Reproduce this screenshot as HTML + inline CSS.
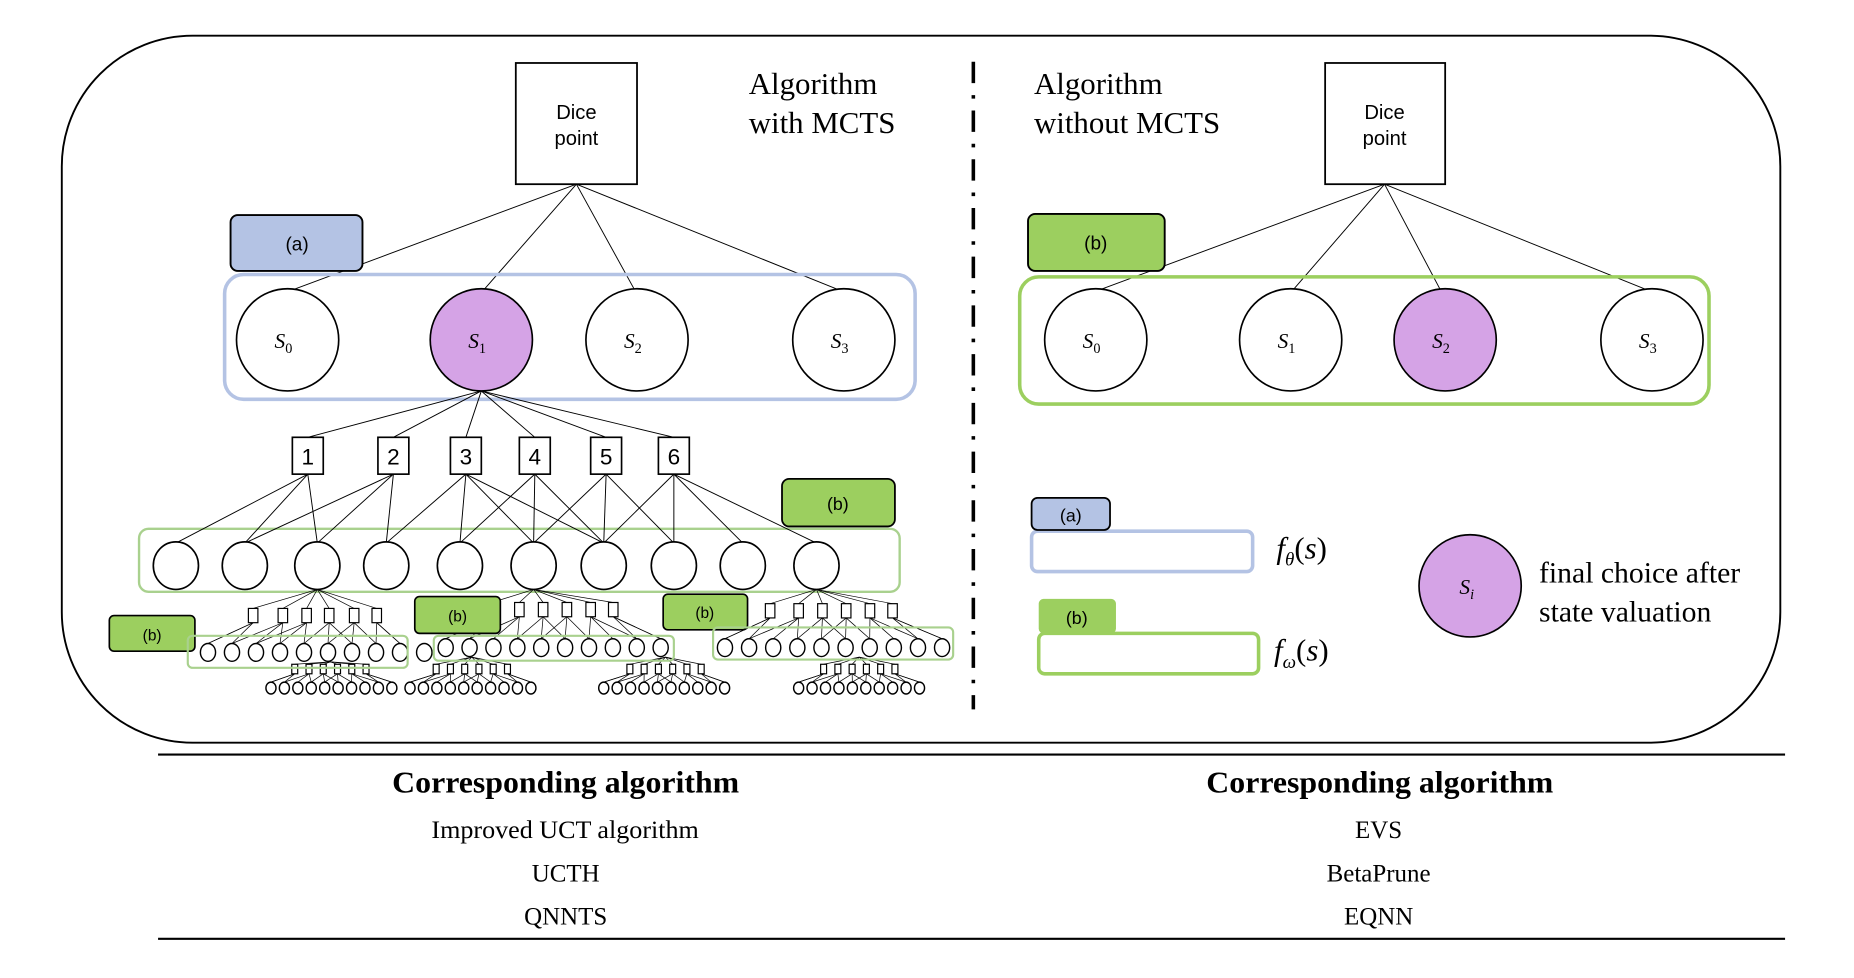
<!DOCTYPE html>
<html><head><meta charset="utf-8"><style>
html,body{margin:0;padding:0;background:#fff;width:1854px;height:978px;overflow:hidden}
svg{display:block}
.s{font-family:"Liberation Sans",sans-serif}
.r{font-family:"Liberation Serif",serif}
</style></head><body>
<svg id="g" width="1854" height="978" viewBox="0 0 1560 823" preserveAspectRatio="none" xmlns="http://www.w3.org/2000/svg">
<rect x="52" y="30" width="1446" height="595" rx="110" ry="110" fill="none" stroke="#000" stroke-width="1.6"/>
<line x1="819" y1="52" x2="819" y2="597" stroke="#000" stroke-width="3" stroke-dasharray="18,10,3,10"/>
<line x1="133" y1="635" x2="1502" y2="635" stroke="#000" stroke-width="1.8"/>
<line x1="133" y1="790" x2="1502" y2="790" stroke="#000" stroke-width="1.8"/>

<rect x="434" y="53" width="102" height="102" fill="#fff" stroke="#000" stroke-width="1.5"/>
<text class="s" x="485" y="100" font-size="17" text-anchor="middle">Dice</text>
<text class="s" x="485" y="122" font-size="17" text-anchor="middle">point</text>
<text class="r" x="630" y="79" font-size="26">Algorithm</text>
<text class="r" x="630" y="112" font-size="26">with MCTS</text>
<g stroke="#000" stroke-width="0.8">
<line x1="485" y1="155" x2="246" y2="244"/><line x1="485" y1="155" x2="407" y2="244"/>
<line x1="485" y1="155" x2="534" y2="244"/><line x1="485" y1="155" x2="706" y2="244"/>
</g>
<rect x="189" y="231" width="581" height="105" rx="16" fill="none" stroke="#b4c3e4" stroke-width="3"/>
<rect x="194" y="181" width="111" height="47" rx="6" fill="#b4c3e4" stroke="#000" stroke-width="1.6"/>
<text class="s" x="250" y="211" font-size="16" text-anchor="middle">(a)</text>
<g stroke="#000" stroke-width="1.4">
<ellipse cx="242" cy="286" rx="43" ry="43" fill="#fff"/>
<ellipse cx="405" cy="286" rx="43" ry="43" fill="#d5a3e6"/>
<ellipse cx="536" cy="286" rx="43" ry="43" fill="#fff"/>
<ellipse cx="710" cy="286" rx="43" ry="43" fill="#fff"/>
</g>
<g class="r" font-size="18" font-style="italic">
<text x="231" y="293">S<tspan font-size="12" dy="4" font-style="normal">0</tspan></text>
<text x="394" y="293">S<tspan font-size="12" dy="4" font-style="normal">1</tspan></text>
<text x="525" y="293">S<tspan font-size="12" dy="4" font-style="normal">2</tspan></text>
<text x="699" y="293">S<tspan font-size="12" dy="4" font-style="normal">3</tspan></text>
</g>

<rect x="1115" y="53" width="101" height="102" fill="#fff" stroke="#000" stroke-width="1.5"/>
<text class="s" x="1165" y="100" font-size="17" text-anchor="middle">Dice</text>
<text class="s" x="1165" y="122" font-size="17" text-anchor="middle">point</text>
<text class="r" x="870" y="79" font-size="26">Algorithm</text>
<text class="r" x="870" y="112" font-size="26">without MCTS</text>
<g stroke="#000" stroke-width="0.8">
<line x1="1165" y1="155" x2="925" y2="244"/><line x1="1165" y1="155" x2="1088" y2="244"/>
<line x1="1165" y1="155" x2="1212" y2="244"/><line x1="1165" y1="155" x2="1386" y2="244"/>
</g>
<rect x="858" y="233" width="580" height="107" rx="16" fill="none" stroke="#9ccf5f" stroke-width="3"/>
<rect x="865" y="180" width="115" height="48" rx="6" fill="#9ccf5f" stroke="#000" stroke-width="1.6"/>
<text class="s" x="922" y="210" font-size="16" text-anchor="middle">(b)</text>
<g stroke="#000" stroke-width="1.4">
<ellipse cx="922" cy="286" rx="43" ry="43" fill="#fff"/>
<ellipse cx="1086" cy="286" rx="43" ry="43" fill="#fff"/>
<ellipse cx="1216" cy="286" rx="43" ry="43" fill="#d5a3e6"/>
<ellipse cx="1390" cy="286" rx="43" ry="43" fill="#fff"/>
</g>
<g class="r" font-size="18" font-style="italic">
<text x="911" y="293">S<tspan font-size="12" dy="4" font-style="normal">0</tspan></text>
<text x="1075" y="293">S<tspan font-size="12" dy="4" font-style="normal">1</tspan></text>
<text x="1205" y="293">S<tspan font-size="12" dy="4" font-style="normal">2</tspan></text>
<text x="1379" y="293">S<tspan font-size="12" dy="4" font-style="normal">3</tspan></text>
</g>

<rect x="868" y="447" width="186" height="34" rx="5" fill="#fff" stroke="#b4c3e4" stroke-width="3"/>
<rect x="868" y="419" width="66" height="27" rx="5" fill="#b4c3e4" stroke="#000" stroke-width="1.5"/>
<text class="s" x="901" y="439" font-size="15" text-anchor="middle">(a)</text>
<text class="r" x="1074" y="470" font-size="26"><tspan font-style="italic">f</tspan><tspan font-size="16" dy="6" font-style="italic">θ</tspan><tspan dy="-6">(</tspan><tspan font-style="italic">s</tspan>)</text>
<rect x="874" y="504" width="65" height="29" rx="4" fill="#9ccf5f"/>
<text class="s" x="906" y="525" font-size="15" text-anchor="middle">(b)</text>
<rect x="874" y="533" width="185" height="34" rx="5" fill="#fff" stroke="#9ccf5f" stroke-width="3"/>
<text class="r" x="1072" y="556" font-size="26"><tspan font-style="italic">f</tspan><tspan font-size="16" dy="6" font-style="italic">ω</tspan><tspan dy="-6">(</tspan><tspan font-style="italic">s</tspan>)</text>
<ellipse cx="1237" cy="493" rx="43" ry="43" fill="#d5a3e6" stroke="#000" stroke-width="1.4"/>
<text class="r" x="1228" y="500" font-size="18" font-style="italic">S<tspan font-size="12" dy="4">i</tspan></text>
<text class="r" x="1295" y="490" font-size="25">final choice after</text>
<text class="r" x="1295" y="523" font-size="25">state valuation</text>

<text class="r" x="330" y="667" font-size="26" font-weight="bold" textLength="292" lengthAdjust="spacingAndGlyphs">Corresponding algorithm</text>
<text class="r" x="1015" y="667" font-size="26" font-weight="bold" textLength="292" lengthAdjust="spacingAndGlyphs">Corresponding algorithm</text>
<g class="r" font-size="21">
<text x="363" y="705" textLength="225" lengthAdjust="spacingAndGlyphs">Improved UCT algorithm</text>
<text x="476" y="742" text-anchor="middle">UCTH</text>
<text x="476" y="778" text-anchor="middle">QNNTS</text>
<text x="1160" y="705" text-anchor="middle">EVS</text>
<text x="1160" y="742" text-anchor="middle">BetaPrune</text>
<text x="1160" y="778" text-anchor="middle">EQNN</text>
</g>

<rect x="117" y="445" width="640" height="53" rx="8" fill="none" stroke="#a9d18e" stroke-width="2"/>
<g id="lines" stroke="#000" stroke-width="0.8"></g>
<g id="nodes"></g>
<rect x="658" y="403" width="95" height="40" rx="6" fill="#9ccf5f" stroke="#000" stroke-width="1.5"/>
<text class="s" x="705" y="429" font-size="15" text-anchor="middle">(b)</text>
<g id="num" class="s" font-size="19" text-anchor="middle"></g>
<g id="top"></g>
<text class="s" x="128" y="539" font-size="13" text-anchor="middle">(b)</text>
</svg>
<script>
const NS="http://www.w3.org/2000/svg";
const L=document.getElementById('lines'),N=document.getElementById('nodes'),T=document.getElementById('top'),G=document.getElementById('g');
function el(p,t,a){const e=document.createElementNS(NS,t);for(const k in a)e.setAttribute(k,a[k]);p.appendChild(e);return e;}
function ln(x1,y1,x2,y2,w){el(L,'line',{x1,y1,x2,y2,'stroke-width':w||0.8});}
const bx=[259,331,392,450,510,567];
const cx=[148,206,267,325,387,449,508,567,625,687];
bx.forEach(x=>ln(405,329,x,368));
const con=[[0,1,2],[1,2,3],[3,4,5,6],[4,5,6],[5,6,7],[6,7,8,9]];
con.forEach((c,i)=>c.forEach(j=>ln(bx[i],399,cx[j],457)));
bx.forEach((x,i)=>{el(N,'rect',{x:x-13,y:368,width:26,height:31,fill:'#fff',stroke:'#000','stroke-width':1.4});
 const t=el(document.getElementById('num'),'text',{x:x,y:391});t.textContent=i+1;});
cx.forEach(x=>el(N,'ellipse',{cx:x,cy:476,rx:19,ry:20,fill:'#fff',stroke:'#000','stroke-width':1.4}));
function sub(px,py,sq,sy,cs,cy,r,sw,sh,box){
 if(box)el(G,'rect',Object.assign({fill:'none',stroke:'#a9d18e','stroke-width':1.8,rx:4},box));
 sq.forEach(x=>ln(px,py,x,sy,0.6));
 sq.forEach((x,i)=>{for(let k=-1;k<=1;k++){const j=Math.min(cs.length-1,Math.max(0,Math.round(i*(cs.length-1)/(sq.length-1))+k));ln(x,sy+sh,cs[j],cy-r,0.6);}});
 sq.forEach(x=>el(N,'rect',{x:x-sw/2,y:sy,width:sw,height:sh,fill:'#fff',stroke:'#000','stroke-width':1}));
 cs.forEach(x=>el(N,'ellipse',{cx:x,cy:cy,rx:r*0.85,ry:r,fill:'#fff',stroke:'#000','stroke-width':1.2}));
}
function rng(a,n,s){return Array.from({length:n},(_,i)=>a+i*s);}
sub(267,496,[213,238,258,277,298,317],512,rng(175,9,20.2),549,7.5,8,12,{x:158,y:535,width:185,height:27});
el(N,'ellipse',{cx:357,cy:549,rx:6.5,ry:7.5,fill:'#fff',stroke:'#000','stroke-width':1.2});
sub(449,496,[414,437,457,477,497,516],507,rng(375,10,20.1),545,7.5,8,12,{x:365,y:535,width:202,height:21});
sub(687,496,[648,672,692,712,732,751],508,rng(610,10,20.3),545,7.5,8,12,{x:600,y:528,width:202,height:27});
[[278,228],[397,345],[560,508],[723,672]].forEach(([p,a])=>{
 const sq=rng(p-30,6,12),cs=rng(a,10,11.3);
 sub(p,p==278?557:553,sq,559,cs,579,5,5,8,null);
});
[[92,518,72,30],[349,502,72,31],[558,500,71,30]].forEach(([x,y,w,h])=>el(T,'rect',{x,y,width:w,height:h,rx:4,fill:'#9ccf5f',stroke:'#000','stroke-width':1.4}));
[[385,523],[593,520]].forEach(([x,y])=>{const t=el(T,'text',{x,y,'font-size':13,'text-anchor':'middle','font-family':'Liberation Sans, sans-serif'});t.textContent='(b)';});
G.appendChild(G.querySelector('text[x="128"]'));
</script>
</body></html>
